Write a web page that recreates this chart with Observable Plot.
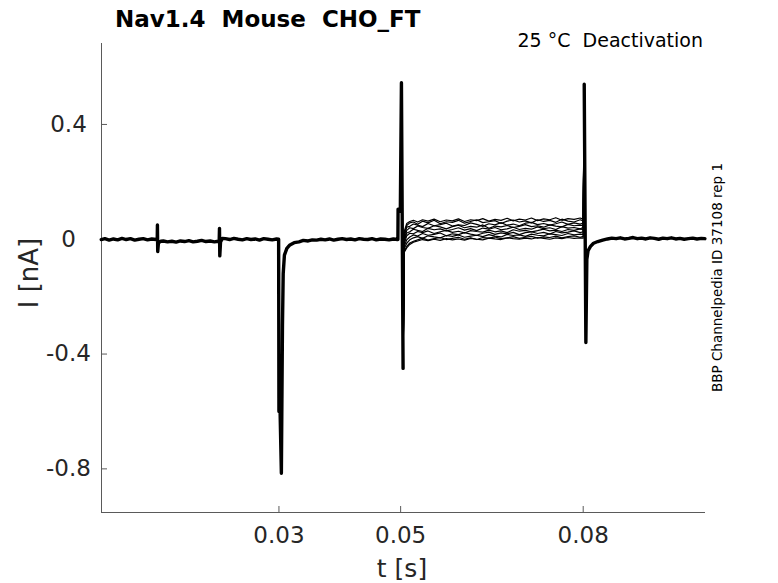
<!DOCTYPE html>
<html><head><meta charset="utf-8">
<script src="https://cdn.jsdelivr.net/npm/d3@7"></script>
<script src="https://cdn.jsdelivr.net/npm/@observablehq/plot@0.6"></script>
<style>
body{margin:0;background:#fff;}
#wrap{position:relative;width:778px;height:583px;}
svg text{font-family:"DejaVu Sans",sans-serif;}
</style></head><body>
<div id="wrap"></div>
<script>
// ---- axes ----
const xTicks = [0.03, 0.05, 0.08];
const yTicks = [-0.8, -0.4, 0, 0.4];
const xDomain = [0.00084, 0.1001];
const yDomain = [-0.952, 0.682];

// ---- common part of all sweeps (holding, test pulse, step to 0.05 s) ----
const commonT = [
  0.0008,0.0014,0.0021,0.0028,0.0035,0.0042,0.0049,0.0056,0.0063,0.0070,0.0077,0.0084,0.0091,0.0098,
  0.01000,0.01003,0.01008,0.0102,0.0106,
  0.0110,0.0117,0.0124,0.0131,0.0138,0.0145,0.0152,0.0159,0.0166,0.0173,0.0180,0.0187,0.0194,0.0200,
  0.02018,0.02023,0.02028,0.0204,0.0207,
  0.0212,0.0219,0.0226,0.0233,0.0240,0.0247,0.0254,0.0261,0.0268,0.0275,0.0282,0.0289,0.0296,0.02995,
  0.0300,0.03015,0.0304,0.03058,0.0307,0.0309,0.0313,0.0318,0.0325,0.0333,0.0340,0.0348,0.0355,
  0.0362,0.0369,0.0376,0.0383,0.0390,0.0397,0.0404,0.0411,0.0418,0.0425,0.0432,0.0439,0.0446,0.0453,0.0460,0.0467,0.0474,0.0481,0.0488,0.0495,
  0.04955,0.04958,0.04995,0.05013,0.0504
];
const commonI = [
  -0.001,0.002,-0.003,0.001,-0.002,0.003,-0.001,0.002,-0.003,0.000,0.002,-0.002,0.001,-0.001,
  -0.002,0.050,-0.043,-0.012,-0.007,
  -0.006,-0.009,-0.007,-0.010,-0.006,-0.008,-0.005,-0.009,-0.007,-0.004,-0.008,-0.006,-0.009,-0.007,
  -0.007,0.038,-0.058,-0.010,0.003,
  0.002,-0.001,0.003,0.000,-0.002,0.002,-0.001,0.001,-0.003,0.002,0.000,-0.002,0.001,0.000,
  -0.600,-0.560,-0.815,-0.300,-0.120,-0.055,-0.032,-0.020,-0.012,-0.009,-0.004,-0.006,-0.002,
  -0.003,0.000,-0.002,0.001,-0.003,0.000,0.002,-0.001,0.001,-0.002,0.002,0.000,-0.001,0.002,-0.002,0.001,0.000,-0.002,0.001,-0.001,
  -0.001,0.105,0.098,0.545,-0.450
];

// ---- deactivation step, one series per sweep ----
const bandT = [0.0506,0.0510,0.0515,0.0521,0.0528,0.0536,0.0545,0.0555,0.0565,0.0575,0.0585,0.0595,0.0605,0.0615,0.0625,0.0635,0.0645,0.0655,0.0665,0.0675,0.0685,0.0695,0.0705,0.0715,0.0725,0.0735,0.0745,0.0755,0.0765,0.0775,0.0785,0.0795,0.0800];
const sweep0 = [0.028,0.055,0.062,0.066,0.060,0.068,0.063,0.070,0.061,0.067,0.064,0.071,0.062,0.068,0.065,0.072,0.063,0.069,0.066,0.073,0.064,0.070,0.067,0.074,0.065,0.071,0.068,0.075,0.066,0.072,0.069,0.074,0.070];
const sweep1 = [0.020,0.048,0.057,0.060,0.052,0.063,0.057,0.066,0.054,0.061,0.059,0.066,0.056,0.062,0.068,0.058,0.061,0.065,0.055,0.063,0.067,0.060,0.064,0.057,0.068,0.062,0.066,0.059,0.070,0.063,0.060,0.068,0.064];
const sweep2 = [0.008,0.042,0.045,0.053,0.049,0.044,0.055,0.047,0.051,0.056,0.046,0.050,0.048,0.057,0.052,0.045,0.054,0.050,0.058,0.049,0.053,0.047,0.056,0.059,0.051,0.055,0.049,0.054,0.060,0.052,0.057,0.053,0.056];
const sweep3 = [-0.002,0.031,0.040,0.037,0.046,0.041,0.038,0.047,0.043,0.036,0.044,0.049,0.040,0.045,0.042,0.050,0.038,0.046,0.043,0.048,0.041,0.045,0.051,0.044,0.047,0.042,0.050,0.046,0.043,0.052,0.047,0.049,0.048];
const sweep4 = [-0.008,0.022,0.026,0.035,0.031,0.027,0.038,0.033,0.036,0.029,0.034,0.040,0.032,0.037,0.030,0.039,0.035,0.041,0.033,0.036,0.042,0.034,0.038,0.035,0.043,0.037,0.040,0.034,0.044,0.039,0.041,0.036,0.042];
const sweep5 = [-0.015,0.012,0.021,0.019,0.027,0.023,0.029,0.020,0.026,0.031,0.024,0.028,0.022,0.030,0.027,0.025,0.032,0.026,0.029,0.023,0.033,0.028,0.031,0.026,0.030,0.035,0.029,0.032,0.027,0.034,0.031,0.036,0.033];
const sweep6 = [-0.024,-0.002,0.008,0.015,0.011,0.020,0.014,0.017,0.022,0.012,0.019,0.016,0.023,0.018,0.014,0.021,0.025,0.017,0.022,0.019,0.024,0.016,0.023,0.026,0.020,0.024,0.018,0.027,0.022,0.025,0.029,0.023,0.026];
const sweep7 = [-0.032,-0.014,-0.002,0.005,0.009,0.003,0.012,0.008,0.005,0.013,0.010,0.015,0.007,0.011,0.014,0.009,0.016,0.011,0.008,0.017,0.013,0.015,0.010,0.018,0.014,0.012,0.019,0.016,0.013,0.020,0.015,0.018,0.017];
const sweep8 = [-0.042,-0.025,-0.013,-0.007,-0.002,0.004,-0.003,0.002,0.006,-0.001,0.003,0.007,0.000,0.005,-0.001,0.006,0.004,0.008,0.002,0.005,0.009,0.003,0.007,0.010,0.004,0.008,0.006,0.011,0.005,0.009,0.012,0.007,0.010];
const sweep9 = [-0.045,-0.030,-0.018,-0.010,-0.006,-0.001,-0.005,0.000,-0.004,0.002,-0.002,0.001,-0.003,0.003,0.000,-0.002,0.004,0.001,-0.001,0.005,0.002,0.000,0.004,0.001,0.006,0.003,0.000,0.005,0.002,0.006,0.003,0.005,0.004];

// ---- common tail (return to holding at 0.08 s) ----
const tailT = [0.08017,0.08044,0.0806,0.0808,0.0812,0.0817,0.0824,0.0832,
  0.0840,0.0847,0.0854,0.0861,0.0868,0.0875,0.0882,0.0889,0.0896,0.0903,0.0910,0.0917,0.0924,0.0931,0.0938,0.0945,0.0952,0.0959,0.0966,0.0973,0.0980,0.0987,0.0994,0.1000];
const tailI = [0.540,-0.360,-0.070,-0.040,-0.025,-0.014,-0.008,-0.003,
  0.001,0.004,0.002,0.005,0.001,0.003,0.006,0.002,0.004,0.001,0.005,0.003,0.000,0.004,0.002,0.005,0.001,0.003,0.000,0.002,0.004,0.001,0.003,0.002];

// ---- tables ----
const commonRows = commonT.map((t, k) => ({t, i: commonI[k]}));
const tailRows = tailT.map((t, k) => ({t, i: tailI[k]}));
const sweeps = [sweep0, sweep1, sweep2, sweep3, sweep4, sweep5, sweep6, sweep7, sweep8, sweep9];
const sweepRows = sweeps.flatMap((vals, s) => [
  {s, t: commonT[commonT.length - 1], i: commonI[commonI.length - 1]},
  ...bandT.map((t, k) => ({s, t, i: vals[k]})),
  {s, t: tailT[0], i: tailI[0]}
]);

const axisColor = "#5a5a5a";
const chart = Plot.plot({
  width: 778,
  height: 583,
  marginLeft: 101,
  marginRight: 73,
  marginTop: 43,
  marginBottom: 71,
  style: {fontFamily: "DejaVu Sans", fontSize: "23px", color: "#262626", background: "#fff"},
  x: {domain: xDomain},
  y: {domain: yDomain},
  marks: [
    Plot.ruleY([yDomain[0]], {stroke: axisColor, strokeWidth: 1}),
    Plot.ruleX([xDomain[0]], {stroke: axisColor, strokeWidth: 1}),
    Plot.axisX({ticks: xTicks, tickSize: -6, tickPadding: 20, tickFormat: d => String(d), label: null, stroke: axisColor, fill: "#262626"}),
    Plot.axisY({ticks: yTicks, tickSize: -6, tickPadding: 39, textAnchor: "middle", tickFormat: d => String(d), label: null, stroke: axisColor, fill: "#262626"}),
    Plot.line(sweepRows, {x: "t", y: "i", z: "s", stroke: "#000", strokeWidth: 1.2}),
    Plot.line(commonRows, {x: "t", y: "i", stroke: "#000", strokeWidth: 3.4}),
    Plot.line(tailRows, {x: "t", y: "i", stroke: "#000", strokeWidth: 3.4})
  ]
});
document.getElementById("wrap").appendChild(chart);

const svg = d3.select(chart);
svg.append("text").attr("x", 115).attr("y", 27).attr("font-size", 23).attr("font-weight", "bold")
  .attr("text-anchor", "start").attr("fill", "#000").style("white-space", "pre").text("Nav1.4  Mouse  CHO_FT");
svg.append("text").attr("x", 703).attr("y", 47).attr("font-size", 19).attr("text-anchor", "end")
  .attr("fill", "#000").style("white-space", "pre").text("25 °C  Deactivation");
svg.append("text").attr("transform", "translate(722,277.5) rotate(-90)").attr("font-size", 13.5)
  .attr("text-anchor", "middle").attr("fill", "#000").text("BBP Channelpedia ID 37108 rep 1");
svg.append("text").attr("transform", "translate(38,273) rotate(-90)").attr("font-size", 26)
  .attr("text-anchor", "middle").attr("fill", "#262626").text("I [nA]");
svg.append("text").attr("x", 402).attr("y", 577).attr("font-size", 25)
  .attr("text-anchor", "middle").attr("fill", "#262626").text("t [s]");
</script>
</body></html>
